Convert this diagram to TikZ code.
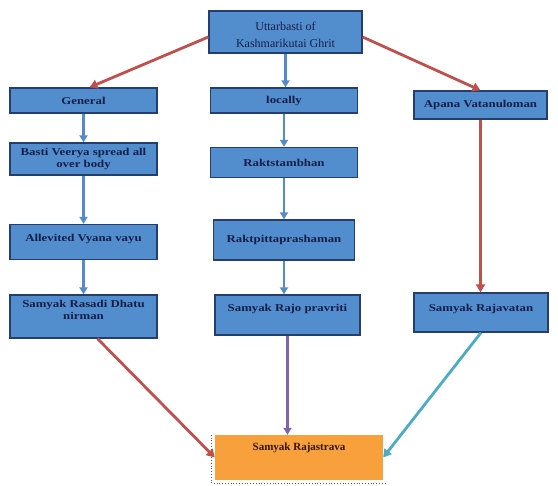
\documentclass[tikz,border=0pt]{standalone}
\usepackage{fontspec}
\setmainfont{Liberation Serif}
\newfontfamily\boxfont[FakeStretch=1.22]{Liberation Serif}
\usetikzlibrary{arrows.meta,calc}
\definecolor{boxfill}{RGB}{82,142,206}
\definecolor{boxline}{RGB}{38,62,110}
\definecolor{boxtext}{RGB}{22,30,72}
\definecolor{redarr}{RGB}{192,80,77}
\definecolor{bluearr}{RGB}{84,140,200}
\definecolor{purparr}{RGB}{128,100,170}
\definecolor{cyanarr}{RGB}{75,172,198}
\definecolor{orangefill}{RGB}{247,160,60}
\definecolor{orangetext}{RGB}{50,20,10}
\newcommand{\lowr}[1]{\raisebox{-3pt}[\height][\depth]{#1}}
\tikzset{
  bluebox/.style={draw=boxline, line width=1.3pt, fill=boxfill, text=boxtext,
    font=\boxfont\fontsize{10.5}{12}\selectfont\bfseries, align=center, inner sep=1pt},
  topbox/.style={draw=boxline, line width=1.3pt, fill=boxfill, text=boxtext,
    font=\fontsize{12}{17}\selectfont, align=center, inner sep=1pt},
  orangebox/.style={fill=orangefill, text=orangetext,
    font=\fontsize{11}{13}\selectfont\bfseries, align=center, inner sep=1pt},
  redline/.style={draw=redarr, line width=2.8pt, -{Triangle[length=8pt,width=9pt]}},
  blueline/.style={draw=bluearr, line width=2.4pt, -{Triangle[length=7pt,width=8pt]}},
  purpline/.style={draw=purparr, line width=2.4pt, -{Triangle[length=7pt,width=8pt]}},
  cyanline/.style={draw=cyanarr, line width=2.8pt, -{Triangle[length=8pt,width=9pt]}},
}
\begin{document}
\begin{tikzpicture}[x=1pt,y=-1pt]
\useasboundingbox (0,0) rectangle (558,486);
% nodes
\node[topbox, minimum width=153pt, minimum height=42pt] (top) at (285.5,32) {\lowr{Uttarbasti of}\\\lowr{Kashmarikutai Ghrit}};
\node[bluebox, minimum width=147pt, minimum height=25pt] (gen) at (83.5,100.5) {General};
\node[bluebox, minimum width=147pt, minimum height=25pt] (loc) at (284,100.5) {locally};
\node[bluebox, minimum width=133pt, minimum height=28pt] (apana) at (480.5,105) {Apana Vatanuloman};
\node[bluebox, minimum width=147pt, minimum height=32pt] (basti) at (83.5,159) {Basti Veerya spread all\\over body};
\node[bluebox, minimum width=147pt, minimum height=30pt] (rakt) at (284,162.5) {Raktstambhan};
\node[bluebox, minimum width=147pt, minimum height=35pt, text depth=8pt] (alle) at (83.5,242) {Allevited Vyana vayu};
\node[bluebox, minimum width=141pt, minimum height=40pt] (raktp) at (284,240) {Raktpittaprashaman};
\node[bluebox, minimum width=147pt, minimum height=43pt, text depth=14pt] (rasadi) at (83.5,316.5) {Samyak Rasadi Dhatu\\nirman};
\node[bluebox, minimum width=145pt, minimum height=40pt, text depth=14pt] (rajo) at (287.5,315) {Samyak Rajo pravriti};
\node[bluebox, minimum width=134pt, minimum height=39pt, text depth=9pt] (rajav) at (481,312.5) {Samyak Rajavatan};
\node[orangebox, minimum width=168pt, minimum height=45pt, text depth=22pt] (rast) at (299,457.5) {Samyak Rajastrava};
% dotted frame
\draw[gray!70!black, dotted, line width=0.8pt]
  ([xshift=-3pt]rast.north west) -- ([shift={(-3pt,-3pt)}]rast.south west) -- ([shift={(3pt,-3pt)}]rast.south east);
% connectors
\draw[redline] ([yshift=-5pt]top.west) -- ([xshift=6pt]gen.north);
\draw[redline] ([yshift=-5pt]top.east) -- (apana.north);
\draw[blueline] (top.south) -- (top.south |- loc.north);
\draw[blueline] (gen.south) -- (basti.north);
\draw[blueline] (basti.south) -- (alle.north);
\draw[blueline] (alle.south) -- (rasadi.north);
\draw[blueline] (loc.south) -- (rakt.north);
\draw[blueline] (rakt.south) -- (raktp.north);
\draw[blueline] (raktp.south) -- (raktp.south |- rajo.north);
\draw[redline] (apana.south) -- (apana.south |- rajav.north);
\draw[redline] ([xshift=14pt]rasadi.south) -- (rast.west);
\draw[purpline] (rajo.south) -- (rajo.south |- rast.north);
\draw[cyanline] (rajav.south) -- (rast.east);
\end{tikzpicture}
\end{document}
